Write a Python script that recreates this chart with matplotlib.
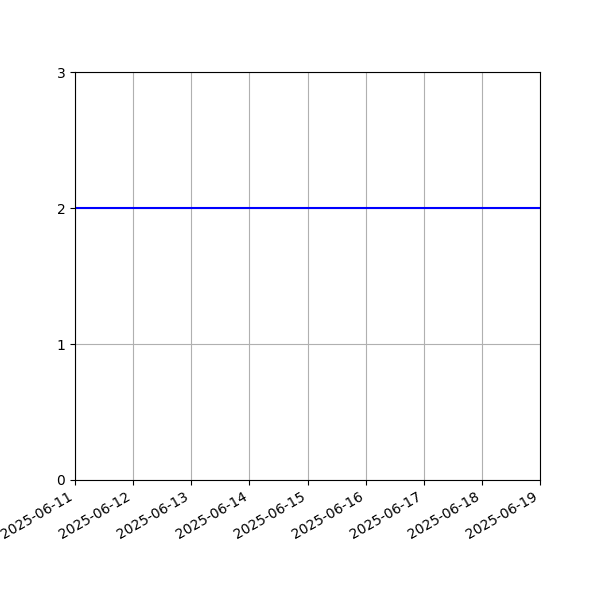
import datetime
import matplotlib
matplotlib.use("Agg")
import matplotlib.pyplot as plt
import matplotlib.dates as mdates

dates = [datetime.date(2025, 6, d) for d in range(11, 20)]
values = [2, 2, 2, 2, 2, 2, 2, 2, 2]

fig, ax = plt.subplots(figsize=(6, 6), dpi=100)
ax.plot(dates, values, color="blue")
ax.set_xlim(dates[0], dates[-1])
ax.set_ylim(0, 3)
ax.set_yticks([0, 1, 2, 3])
ax.xaxis.set_major_locator(mdates.DayLocator())
ax.xaxis.set_major_formatter(mdates.DateFormatter("%Y-%m-%d"))
ax.grid(True)
fig.autofmt_xdate()

fig.savefig("out.png")
